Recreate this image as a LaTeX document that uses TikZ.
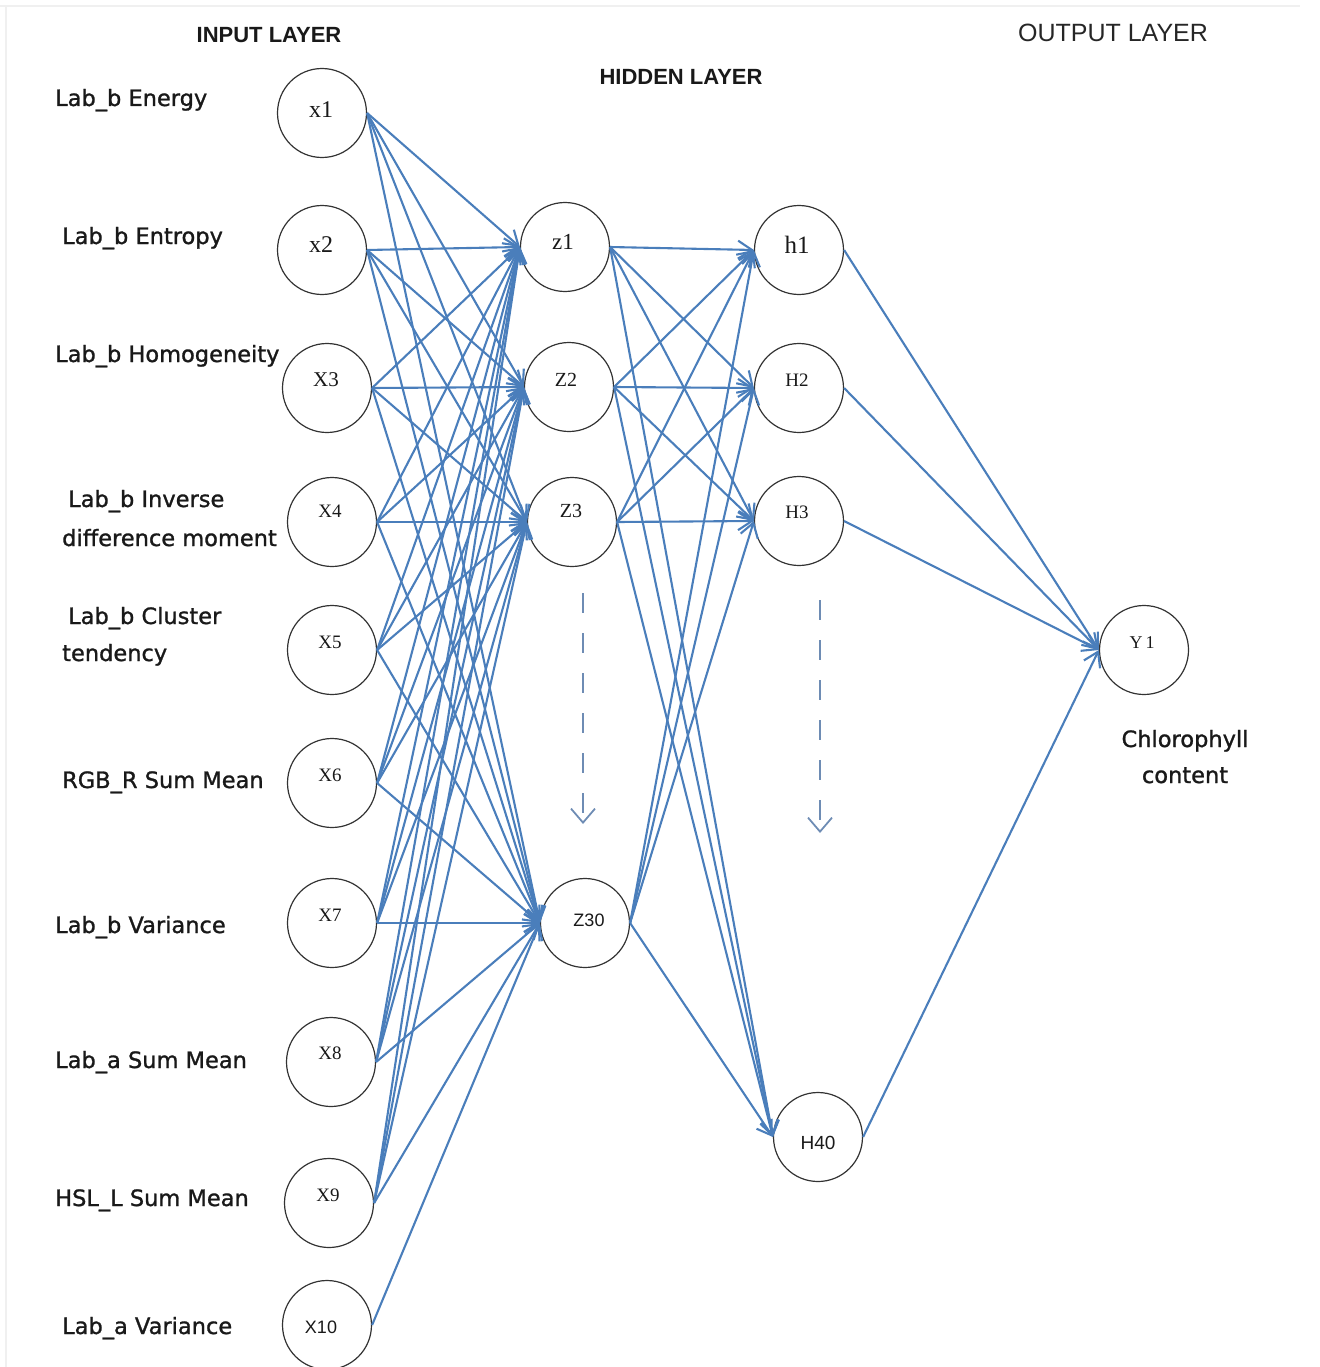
\documentclass[tikz,border=0pt]{standalone}
\usepackage{fontspec}
\setmainfont{DejaVu Sans}
\newfontface\lblfont{DejaVu Sans}[FakeBold=1.2]
\newfontfamily\serf{Liberation Serif}
\newfontfamily\arl{Liberation Sans}
\usetikzlibrary{arrows.meta}
\definecolor{edgeblue}{RGB}{74,126,187}
\definecolor{dashblue}{RGB}{110,140,180}
\begin{document}
\begin{tikzpicture}[x=1pt,y=-1pt,
  neuron/.style={circle, draw=black!80, line width=1.2pt, minimum size=89pt, inner sep=0pt},
  lbl/.style={font=\lblfont\fontsize{22.5}{27}\selectfont, anchor=base west, inner sep=0pt, text=black!90},
  ttl/.style={font=\arl\bfseries\fontsize{22}{26}\selectfont, anchor=base, inner sep=0pt, text=black!90},
  nser/.style={font=\serf, inner sep=0pt, text=black!90},
  nsan/.style={font=\arl, inner sep=0pt, text=black!90},
  conn/.style={draw=edgeblue, line width=2.1pt, -{Straight Barb[length=14pt,width=18pt,line width=2.1pt]}},
  dasharr/.style={draw=dashblue, line width=1.8pt, dash pattern=on 20pt off 20pt, -{Straight Barb[length=14pt,width=24pt,line width=1.8pt]}}
]
\useasboundingbox (0,0) rectangle (1319,1367);
% faint frame
\draw[gray!12, line width=1.5pt] (0,6) -- (1300,6);
\draw[gray!12, line width=1.5pt] (6,6) -- (6,1367);

% titles
\node[ttl] (tin) at (269,43) {INPUT LAYER};
\node[ttl] (thid) at (681,85) {HIDDEN LAYER};
\node[font=\arl\fontsize{25}{30}\selectfont, anchor=base, inner sep=0pt, text=black!85] (tout) at (1113,42) {OUTPUT LAYER};

% left labels
\node[lbl] (l1) at (55,106) {Lab\_b Energy};
\node[lbl] (l2) at (62,244) {Lab\_b Entropy};
\node[lbl] (l3) at (55,362) {Lab\_b Homogeneity};
\node[lbl] (l4a) at (68,507) {Lab\_b Inverse};
\node[lbl] (l4b) at (62,546) {difference moment};
\node[lbl] (l5a) at (68,624) {Lab\_b Cluster};
\node[lbl] (l5b) at (62,661) {tendency};
\node[lbl] (l6) at (62,788) {RGB\_R Sum Mean};
\node[lbl] (l7) at (55,933) {Lab\_b Variance};
\node[lbl] (l8) at (55,1068) {Lab\_a Sum Mean};
\node[lbl] (l9) at (55,1206) {HSL\_L Sum Mean};
\node[lbl] (l10) at (62,1334) {Lab\_a Variance};

\node[lbl, anchor=base] (ch1) at (1185,747) {Chlorophyll};
\node[lbl, anchor=base] (ch2) at (1185,783) {content};

% input neurons
\node[neuron] (x1) at (322,113) {};
\node[neuron] (x2) at (322,250) {};
\node[neuron] (x3) at (327,388) {};
\node[neuron] (x4) at (332,522) {};
\node[neuron] (x5) at (332,650) {};
\node[neuron] (x6) at (332,783) {};
\node[neuron] (x7) at (332,923) {};
\node[neuron] (x8) at (331,1062) {};
\node[neuron] (x9) at (329,1203) {};
\node[neuron] (x10) at (327,1325) {};
% hidden 1
\node[neuron] (z1) at (565,247) {};
\node[neuron] (z2) at (569,387) {};
\node[neuron] (z3) at (572,522) {};
\node[neuron] (z30) at (585,923) {};
% hidden 2
\node[neuron] (h1) at (799,250) {};
\node[neuron] (h2) at (799,388) {};
\node[neuron] (h3) at (799,521) {};
\node[neuron] (h40) at (818,1137) {};
% output
\node[neuron] (y1) at (1144,650) {};

% neuron texts
\node[nser, font=\serf\fontsize{24}{28}\selectfont] (tx1) at (321,110) {x1};
\node[nser, font=\serf\fontsize{24}{28}\selectfont] (tx2) at (321,245) {x2};
\node[nser, font=\serf\fontsize{21}{25}\selectfont] (tx3) at (326,380) {X3};
\node[nser, font=\serf\fontsize{19}{23}\selectfont] (tx4) at (330,511) {X4};
\node[nser, font=\serf\fontsize{19}{23}\selectfont] (tx5) at (330,642) {X5};
\node[nser, font=\serf\fontsize{19}{23}\selectfont] (tx6) at (330,775) {X6};
\node[nser, font=\serf\fontsize{19}{23}\selectfont] (tx7) at (330,915) {X7};
\node[nser, font=\serf\fontsize{19}{23}\selectfont] (tx8) at (330,1053) {X8};
\node[nser, font=\serf\fontsize{19}{23}\selectfont] (tx9) at (328,1195) {X9};
\node[nsan, font=\arl\fontsize{18}{21}\selectfont] (tx10) at (321,1327) {X10};
\node[nser, font=\serf\fontsize{23}{27}\selectfont] (tz1) at (563,242) {z1};
\node[nser, font=\serf\fontsize{20}{24}\selectfont] (tz2) at (566,380) {Z2};
\node[nser, font=\serf\fontsize{20}{24}\selectfont] (tz3) at (571,511) {Z3};
\node[nsan, font=\arl\fontsize{18}{21}\selectfont] (tz30) at (589,920) {Z30};
\node[nser, font=\serf\fontsize{25}{29}\selectfont] (th1) at (797,245) {h1};
\node[nser, font=\serf\fontsize{19}{23}\selectfont] (th2) at (797,380) {H2};
\node[nser, font=\serf\fontsize{19}{23}\selectfont] (th3) at (797,512) {H3};
\node[nsan, font=\arl\fontsize{19}{22}\selectfont] (th40) at (818,1143) {H40};
\node[nser, font=\serf\fontsize{18}{22}\selectfont] (ty1) at (1142,643) {Y\,1};

% connections input -> hidden 1
\foreach \s in {x1,x2,x3,x4,x5,x6,x7,x8,x9}{
  \foreach \t in {z1,z2,z3,z30}{
    \draw[conn] (\s.east) -- (\t.west);
  }
}
\draw[conn] (x10.east) -- (z30.west);
% hidden 1 -> hidden 2
\foreach \s in {z1,z2,z3,z30}{
  \foreach \t in {h1,h2,h3,h40}{
    \draw[conn] (\s.east) -- (\t.west);
  }
}
% hidden 2 -> output
\foreach \s in {h1,h2,h3,h40}{
  \draw[conn] (\s.east) -- (y1.west);
}

% dashed continuation arrows
\coordinate (d1s) at (583,593);
\coordinate (d1e) at (583,824);
\coordinate (d2s) at (820,600);
\coordinate (d2e) at (820,833);
\draw[dasharr] (d1s) -- (d1e);
\draw[dasharr] (d2s) -- (d2e);
\end{tikzpicture}
\end{document}
